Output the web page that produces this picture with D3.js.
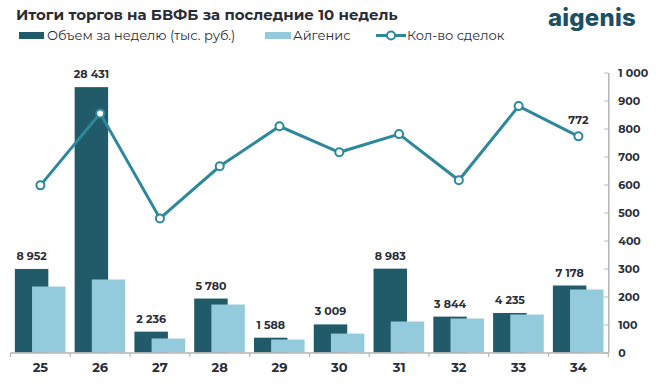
<!DOCTYPE html>
<html><head><meta charset="utf-8">
<script src="https://cdn.jsdelivr.net/npm/d3@7"></script>
<style>
body{margin:0;background:#fff;}
svg{display:block;font-family:Montserrat, Inter, "Open Sans", sans-serif;}
</style></head>
<body><svg id="c" width="656" height="385"></svg>
<script>
const weeks = ["25","26","27","28","29","30","31","32","33","34"];
const volume = [8952, 28431, 2236, 5780, 1588, 3009, 8983, 3844, 4235, 7178];
const aigenis = [7070, 7820, 1500, 5140, 1390, 2030, 3320, 3640, 4070, 6750];
const deals = [597, 854, 479, 665, 808, 715, 780, 615, 880, 772];
const rightTicks = [0,100,200,300,400,500,600,700,800,900,1000];
const title = "Итоги торгов на БВФБ за последние 10 недель";
const legendLabels = ["Объем за неделю (тыс. руб.)", "Айгенис", "Кол-во сделок"];

const C_DARK = "#215a69", C_LIGHT = "#93cbdc", C_LINE = "#2d889c", C_TEXT = "#2a2d38", C_AXIS = "#b5b5b5";
const loc = d3.formatLocale({decimal:",", thousands:"\u00a0", grouping:[3], currency:["",""]});
const fmt = loc.format(",d");

const svg = d3.select("#c");
const x = d3.scaleBand().domain(weeks).range([10.5, 608.3]).padding(0);
const yVol = d3.scaleLinear().domain([0, 30000]).range([352.5, 72.5]);
const yDeals = d3.scaleLinear().domain([0, 1000]).range([352.5, 72.5]);
const bw = x.bandwidth();

// bars
const g = svg.append("g");
g.selectAll("rect.v").data(volume).join("rect").attr("class","v")
  .attr("x",(d,i)=>x(weeks[i])+bw*0.073).attr("width",bw*0.56)
  .attr("y",d=>yVol(d)).attr("height",d=>yVol(0)-yVol(d)).attr("fill",C_DARK);
g.selectAll("rect.a").data(aigenis).join("rect").attr("class","a")
  .attr("x",(d,i)=>x(weeks[i])+bw*0.36).attr("width",bw*0.56)
  .attr("y",d=>yVol(d)).attr("height",d=>yVol(0)-yVol(d)).attr("fill",C_LIGHT);

// volume labels
g.selectAll("text.vl").data(volume).join("text").attr("class","vl")
  .attr("x",(d,i)=>x(weeks[i])+bw*0.073+bw*0.28).attr("y",d=>yVol(d)-9)
  .attr("text-anchor","middle").attr("font-size",11).attr("font-weight",700)
  .attr("fill",C_TEXT).text(d=>fmt(d));

// bottom axis
const xb = svg.append("g").attr("transform","translate(0,353)");
xb.append("line").attr("x1",10.5).attr("x2",608.3).attr("stroke",C_AXIS).attr("stroke-width",1.5);
const bounds = weeks.map(w=>x(w)).concat([x.range()[1]]);
xb.selectAll("line.t").data(bounds).join("line").attr("class","t")
  .attr("x1",d=>d).attr("x2",d=>d).attr("y1",0).attr("y2",4).attr("stroke",C_AXIS).attr("stroke-width",1.2);
const xAxis = svg.append("g").attr("transform","translate(0,353)")
  .call(d3.axisBottom(x).tickSize(0).tickPadding(10));
xAxis.select(".domain").remove();
xAxis.selectAll("text").attr("font-size",13).attr("font-weight",700).attr("fill",C_TEXT)
  .attr("font-family","Montserrat, Inter, sans-serif");

// right axis
const ya = svg.append("g").attr("transform","translate(608.3,0)")
  .call(d3.axisRight(yDeals).tickValues(rightTicks).tickSizeInner(-4).tickSizeOuter(0).tickPadding(10).tickFormat(d=>fmt(d)));
ya.select(".domain").attr("stroke",C_AXIS).attr("stroke-width",1.5);
ya.selectAll(".tick line").attr("stroke",C_AXIS);
ya.selectAll("text").attr("font-size",11).attr("font-weight",700).attr("fill",C_TEXT)
  .attr("font-family","Montserrat, Inter, sans-serif");

// line
const cx = (d,i)=>x(weeks[i])+bw/2;
svg.append("path").datum(deals)
  .attr("d", d3.line().x(cx).y(d=>yDeals(d)))
  .attr("fill","none").attr("stroke",C_LINE).attr("stroke-width",3);
svg.selectAll("circle.p").data(deals).join("circle").attr("class","p")
  .attr("cx",cx).attr("cy",d=>yDeals(d)).attr("r",4)
  .attr("fill","#fff").attr("stroke",C_LINE).attr("stroke-width",2);
const last = deals.length-1;
svg.append("text").attr("x",cx(deals[last],last)).attr("y",yDeals(deals[last])-12)
  .attr("text-anchor","middle").attr("font-size",11).attr("font-weight",700).attr("fill",C_TEXT)
  .text(fmt(deals[last]));

// title
svg.append("text").attr("x",16).attr("y",20).attr("font-size",15).attr("font-weight",700)
  .attr("fill",C_TEXT).text(title);

// legend
const lg = svg.append("g");
lg.append("rect").attr("x",19).attr("y",32).attr("width",25).attr("height",7).attr("fill",C_DARK);
lg.append("text").attr("x",47).attr("y",40).attr("font-size",13).attr("fill",C_TEXT).text(legendLabels[0]);
lg.append("rect").attr("x",265).attr("y",32).attr("width",26).attr("height",7).attr("fill",C_LIGHT);
lg.append("text").attr("x",293).attr("y",40).attr("font-size",13).attr("fill",C_TEXT).text(legendLabels[1]);
lg.append("line").attr("x1",376).attr("x2",406).attr("y1",35.5).attr("y2",35.5).attr("stroke",C_LINE).attr("stroke-width",3);
lg.append("circle").attr("cx",391).attr("cy",35.5).attr("r",4).attr("fill","#fff").attr("stroke",C_LINE).attr("stroke-width",2);
lg.append("text").attr("x",407).attr("y",40).attr("font-size",13).attr("fill",C_TEXT).text(legendLabels[2]);

// logo
svg.append("text").attr("x",548).attr("y",26).attr("font-size",24).attr("font-weight",800)
  .attr("fill","#1b5064").attr("font-family","Inter, Lato, sans-serif").attr("letter-spacing",0.2).text("aigenis");
</script></body></html>
